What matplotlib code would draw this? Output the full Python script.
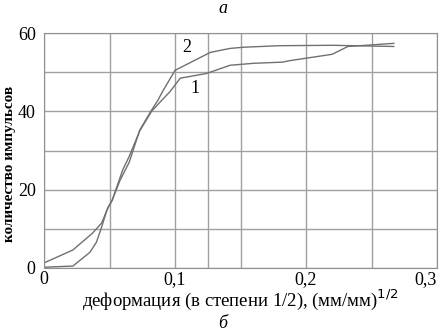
import matplotlib
matplotlib.use("Agg")
import matplotlib.pyplot as plt

plt.rcParams['font.family'] = ['Liberation Serif', 'DejaVu Serif']

# кривая 1
x1 = [0.0, 0.022, 0.035, 0.040, 0.044, 0.048, 0.052, 0.060, 0.065, 0.073, 0.082,
      0.090, 0.096, 0.104, 0.124, 0.142, 0.160, 0.182, 0.188, 0.220, 0.232, 0.250, 0.267]
y1 = [0.2, 0.5, 4.0, 6.6, 10.5, 14.8, 17.3, 25.0, 28.5, 35.0, 40.0,
      42.9, 45.0, 48.5, 49.7, 51.8, 52.3, 52.6, 53.0, 54.6, 56.6, 57.0, 57.4]

# кривая 2
x2 = [0.0, 0.022, 0.037, 0.044, 0.049, 0.052, 0.058, 0.065, 0.073, 0.082,
      0.087, 0.091, 0.100, 0.127, 0.142, 0.152, 0.180, 0.220, 0.267]
y2 = [1.3, 4.6, 8.9, 11.5, 15.6, 17.3, 22.4, 27.0, 35.2, 40.3,
      42.9, 45.4, 50.5, 55.1, 56.1, 56.4, 56.8, 56.9, 56.6]

fig = plt.figure(figsize=(4.45, 3.35), dpi=100)
ax = fig.add_axes([0.099, 0.2, 0.883, 0.701])

ax.plot(x1, y1, color='#707070', linewidth=1.0)
ax.plot(x2, y2, color='#707070', linewidth=1.0)

ax.set_xlim(0, 0.3)
ax.set_ylim(0, 60)
ax.set_xticks([0, 0.1, 0.2, 0.3])
ax.set_xticklabels(['0', '0,1', '0,2', '0,3'])
ax.get_xticklabels()[-1].set_ha('right')
ax.set_yticks([0, 20, 40, 60])
ax.set_xticks([0.05, 0.125, 0.15, 0.25], minor=True)
ax.set_yticks([10, 30, 50], minor=True)
ax.grid(True, which='both', color='#a0a0a0', linewidth=1.0)
ax.tick_params(which='both', length=0, labelsize=13, pad=2)
ax.tick_params(axis='y', pad=6)
for s in ax.spines.values():
    s.set_color('#909090')

ax.text(0.109, 56.4, '2', fontsize=13, ha='center', va='center')
ax.text(0.115, 45.9, '1', fontsize=13, ha='center', va='center')

ax.set_xlabel('деформация (в степени 1/2), (мм/мм)$^{1/2}$', fontsize=13.5, labelpad=0)
ax.set_ylabel('количество импульсов', fontsize=11, fontweight='bold')
ax.yaxis.set_label_coords(-0.071, 0.443)

fig.text(0.5, 0.976, 'а', fontsize=13, style='italic', ha='center', va='center')
fig.text(0.5, 0.035, 'б', fontsize=13, style='italic', ha='center', va='center')

fig.savefig('out.png', dpi=100)
